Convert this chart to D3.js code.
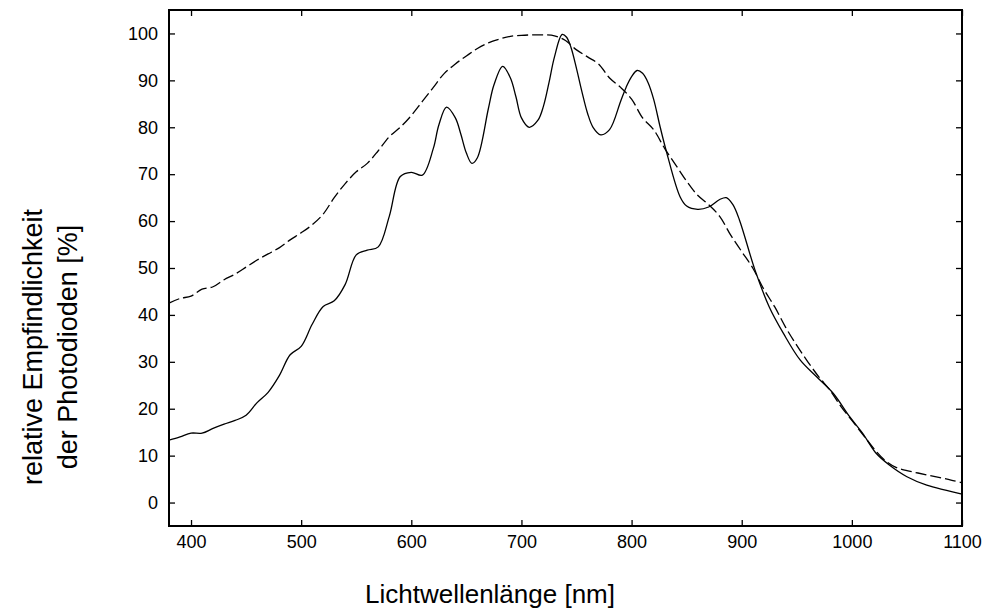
<!DOCTYPE html>
<meta charset="utf-8" />
<style>
  body { margin: 0; background: #fff; }
  text { font-family: "Liberation Sans", Arial, sans-serif; fill: #000; }
  .axis path, .axis line { stroke: #000; }
</style>
<body>
  <!-- load the d3.js library -->
  <script src="https://d3js.org/d3.v7.min.js"></script>
  <script>
    // values (wavelength in nm, sensitivity in %)
    const solidNm = [380, 390, 400, 410, 420, 430, 440, 450, 460, 470, 480, 490, 500, 510, 520, 530, 540, 550, 560, 570,
      580, 590, 600, 610, 620, 625, 632, 640, 645, 650, 655, 660, 670, 675, 683, 690, 695, 700, 707, 715, 720, 725,
      730, 737, 741, 745, 750, 755, 760, 765, 772, 780, 790, 795, 800, 805, 810, 815, 820, 826, 832, 844, 850, 860,
      870, 880, 886, 892, 898, 912, 925, 938, 953, 968, 983, 998, 1010, 1022, 1034, 1050, 1068, 1086, 1100];
    const solidVal = [13.3, 14, 14.8, 14.8, 15.8, 16.7, 17.5, 18.6, 21.3, 23.5, 27, 31.5, 33.3, 38, 41.8, 43, 46.5, 52.8, 53.8, 54.5,
      61, 69.5, 70.4, 69.8, 75.5, 80.5, 84.3, 82, 78.5, 74.5, 72.3, 73.5, 84, 89, 93, 90.5, 86.5, 82, 80, 81.5, 84.5, 89.5,
      95, 99.8, 99.2, 97, 92.5, 87.5, 83, 80, 78.4, 79.5, 85.5, 88.5, 90.8, 92.1, 91.5, 89.5, 86, 80, 74.5, 65.2, 63.2, 62.5,
      63, 64.6, 65, 63.5, 60.2, 49.6, 41.7, 36, 30.4, 26.8, 23.3, 18.3, 14.7, 10.5, 8, 5.5, 3.7, 2.6, 1.8];

    const dashNm = [380, 390, 400, 410, 420, 430, 440, 450, 460, 470, 480, 490, 500, 510, 520, 530, 540, 550, 560, 570,
      580, 590, 600, 610, 620, 630, 640, 650, 660, 670, 680, 690, 700, 710, 720, 730, 740, 750, 760, 770,
      780, 790, 800, 810, 820, 830, 840, 850, 860, 870, 880, 890, 900, 910, 920, 930, 940, 950, 960, 970,
      980, 990, 1000, 1010, 1020, 1030, 1040, 1050, 1060, 1070, 1080, 1090, 1100];
    const dashVal = [42.5, 43.5, 44, 45.5, 46, 47.5, 48.7, 50.2, 51.7, 53, 54.3, 56, 57.5, 59.2, 61.5, 65, 68, 70.5, 72.3, 75,
      78, 80, 82.5, 85.5, 88.5, 91.5, 93.5, 95.2, 96.8, 98, 98.8, 99.4, 99.6, 99.7, 99.7, 99.5, 98.5, 96.5, 95, 93.5,
      90.5, 88.5, 86, 82, 79.5, 75.5, 72, 68.5, 65.5, 63.5, 61, 57, 53.5, 50, 45.5, 41.7, 37.3, 33.5, 30, 26.8,
      24, 20.5, 17.5, 14.5, 11.5, 9, 7.5, 6.8, 6.3, 5.8, 5.3, 4.8, 4.2];

    const xTicks = [400, 500, 600, 700, 800, 900, 1000, 1100];
    const yTicks = [0, 10, 20, 30, 40, 50, 60, 70, 80, 90, 100];

    const xTitle = "Lichtwellenlänge [nm]";
    const yTitle = ["relative Empfindlichkeit", "der Photodioden [%]"];

    // set the dimensions and margins of the graph
    const margin = { top: 10, right: 25, bottom: 85, left: 169 },
      width = 987 - margin.left - margin.right,
      height = 611 - margin.top - margin.bottom;

    const root = d3.select("body").append("svg")
      .attr("width", 987)
      .attr("height", 611);

    const svg = root.append("g")
      .attr("transform", "translate(" + margin.left + "," + margin.top + ")");

    const x = d3.scaleLinear().domain([380, 1100]).range([0, width]);
    const y = d3.scaleLinear().domain([-5, 105]).range([height, 0]);

    // axes, ticks pointing inward
    svg.append("g").attr("class", "axis")
      .attr("transform", "translate(0," + height + ")")
      .call(d3.axisBottom(x).tickValues(xTicks).tickFormat(d3.format("d"))
        .tickSizeInner(-6).tickSizeOuter(0).tickPadding(9))
      .call(g => g.selectAll("text").style("font-size", "18px"));

    svg.append("g").attr("class", "axis")
      .call(d3.axisTop(x).tickValues(xTicks).tickSizeInner(-6).tickSizeOuter(0).tickFormat(""));

    svg.append("g").attr("class", "axis")
      .call(d3.axisLeft(y).tickValues(yTicks).tickSizeInner(-6).tickSizeOuter(0).tickPadding(11))
      .call(g => g.selectAll("text").style("font-size", "18px"));

    svg.append("g").attr("class", "axis")
      .attr("transform", "translate(" + width + ",0)")
      .call(d3.axisRight(y).tickValues(yTicks).tickSizeInner(-6).tickSizeOuter(0).tickFormat(""));

    svg.selectAll(".axis line").attr("stroke-width", 1.3);
    svg.selectAll(".axis path").remove();

    // frame
    svg.append("rect")
      .attr("width", width)
      .attr("height", height)
      .attr("fill", "none")
      .attr("stroke", "#000")
      .attr("stroke-width", 2);

    const line = d3.line()
      .x(d => x(d[0]))
      .y(d => y(d[1]))
      .curve(d3.curveCatmullRom.alpha(0.5));

    svg.append("path")
      .datum(d3.zip(dashNm, dashVal))
      .attr("fill", "none")
      .attr("stroke", "#000")
      .attr("stroke-width", 1.3)
      .attr("stroke-dasharray", "11,4")
      .attr("d", line);

    svg.append("path")
      .datum(d3.zip(solidNm, solidVal))
      .attr("fill", "none")
      .attr("stroke", "#000")
      .attr("stroke-width", 1.3)
      .attr("d", line);

    // axis titles
    root.append("text")
      .attr("x", 490)
      .attr("y", 603)
      .attr("text-anchor", "middle")
      .style("font-size", "26px")
      .text(xTitle);

    root.append("g")
      .attr("transform", "translate(0,347) rotate(-90)")
      .selectAll("text")
      .data(yTitle)
      .join("text")
      .attr("x", 0)
      .attr("y", (d, i) => 42 + i * 35)
      .attr("text-anchor", "middle")
      .style("font-size", "27px")
      .text(d => d);
  </script>
</body>
